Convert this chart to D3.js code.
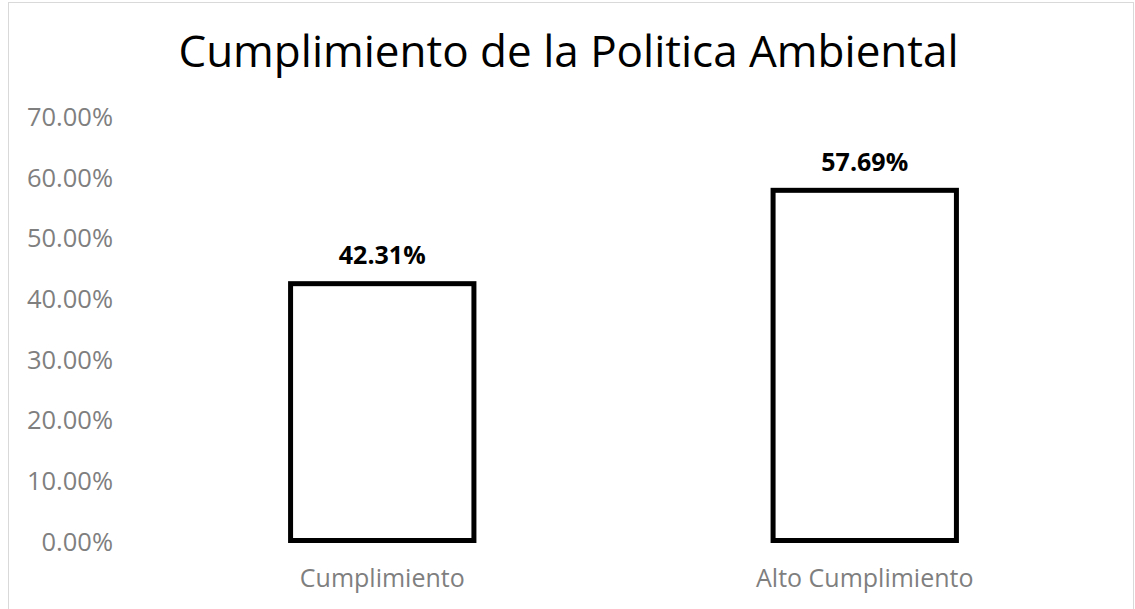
<!DOCTYPE html>
<html>
<head>
<meta charset="utf-8">
<script src="https://cdn.jsdelivr.net/npm/d3@7"></script>
<style>
    body { margin: 0; background: #fff; }
    svg text { font-family: "Open Sans", "Noto Sans", sans-serif; }
</style>
</head>
<body>
<script>
//chart data
var categories = ["Cumplimiento", "Alto Cumplimiento"];
var values = [0.4231, 0.5769];
var tickValues = [0, 0.1, 0.2, 0.3, 0.4, 0.5, 0.6, 0.7];
var chartTitle = "Cumplimiento de la Politica Ambiental";

var width = 1135,
    height = 609;

var svg = d3.select("body")
    .append("svg")
    .attr("width", width)
    .attr("height", height);

//outer chart frame
svg.append("rect")
    .attr("x", 8.5)
    .attr("y", 2.5)
    .attr("width", 1125)
    .attr("height", 620)
    .attr("fill", "#fff")
    .attr("stroke", "#d9d9d9")
    .attr("stroke-width", 1);

var x = d3.scaleBand()
    .domain(categories)
    .range([141, 1106])
    .paddingInner(0.62)
    .paddingOuter(0.31);

var y = d3.scaleLinear()
    .domain([0, 0.7])
    .range([540.5, 115.6]);

//title
svg.append("text")
    .attr("x", 568.5)
    .attr("y", 67)
    .attr("text-anchor", "middle")
    .attr("font-size", 44)
    .attr("fill", "#000")
    .text(chartTitle);

//y axis (labels only)
var yAxis = d3.axisLeft(y)
    .tickValues(tickValues)
    .tickFormat(d3.format(".2%"))
    .tickSize(0)
    .tickPadding(0);

var yG = svg.append("g")
    .attr("transform", "translate(113,0)")
    .call(yAxis);
yG.select(".domain").remove();
yG.selectAll("text")
    .attr("font-size", 25.5)
    .attr("fill", "#7f7f7f")
    .attr("dy", "0.38em");

//x axis (labels only)
var xAxis = d3.axisBottom(x)
    .tickSize(0)
    .tickPadding(0);

var xG = svg.append("g")
    .attr("transform", "translate(0,587)")
    .call(xAxis);
xG.select(".domain").remove();
xG.selectAll("text")
    .attr("font-size", 25)
    .attr("fill", "#7f7f7f")
    .attr("dy", 0);

//bars
svg.selectAll(".bar")
    .data(values)
    .enter()
    .append("rect")
    .attr("class", "bar")
    .attr("x", function(d, i){ return x(categories[i]); })
    .attr("y", function(d){ return y(d); })
    .attr("width", x.bandwidth())
    .attr("height", function(d){ return y(0) - y(d); })
    .attr("fill", "#fff")
    .attr("stroke", "#000")
    .attr("stroke-width", 5);

//data labels
svg.selectAll(".label")
    .data(values)
    .enter()
    .append("text")
    .attr("class", "label")
    .attr("x", function(d, i){ return x(categories[i]) + x.bandwidth() / 2; })
    .attr("y", function(d){ return y(d) - 19.5; })
    .attr("text-anchor", "middle")
    .attr("font-size", 25)
    .attr("font-weight", "bold")
    .attr("fill", "#000")
    .text(function(d){ return d3.format(".2%")(d); });
</script>
</body>
</html>
